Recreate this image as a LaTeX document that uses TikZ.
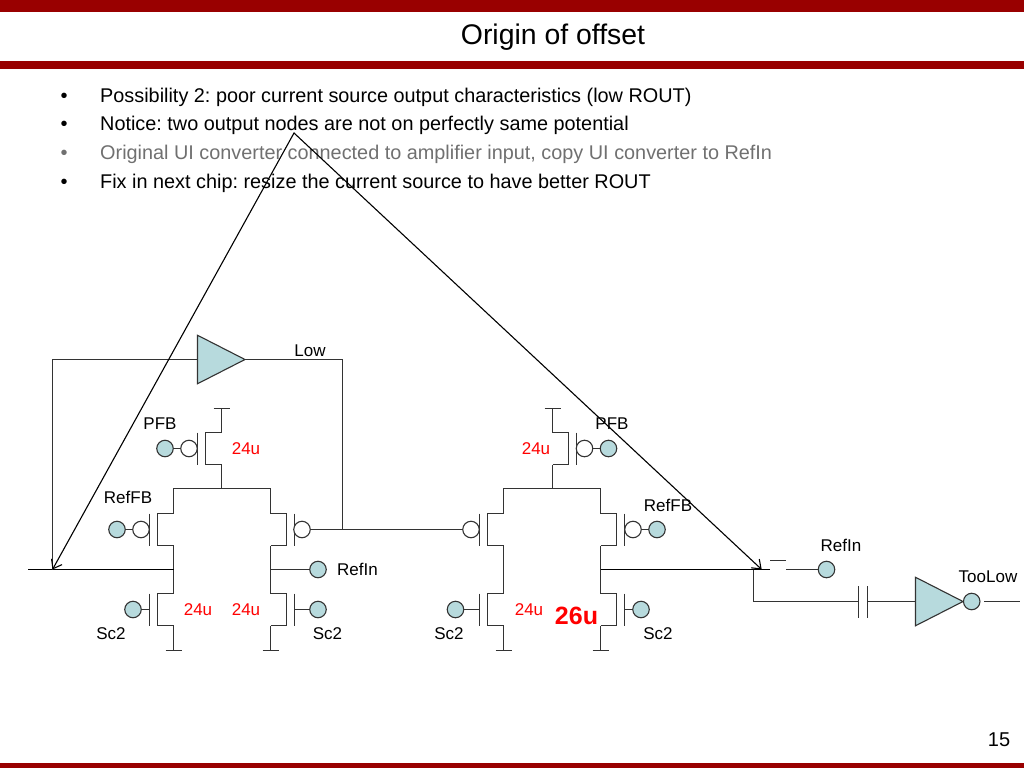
\documentclass[tikz,border=0pt]{standalone}
\usepackage{fontspec}
\setmainfont{Liberation Sans}
\usepackage{tikz}
\usetikzlibrary{arrows.meta}
\usetikzlibrary{shapes.geometric}
\definecolor{bandred}{HTML}{990000}
\definecolor{padteal}{HTML}{B7DADD}
\definecolor{wiregray}{HTML}{333333}
\definecolor{dimgray}{HTML}{707070}
\tikzset{
    wire/.style={draw=wiregray, line width=1.1pt},
    net/.style={draw=black, line width=1.1pt},
    pad/.style={circle, draw=wiregray, line width=1.1pt, fill=padteal, minimum size=16.5pt, inner sep=0pt, outer sep=0pt},
    bubble/.style={circle, draw=wiregray, line width=1.1pt, fill=white, minimum size=16.5pt, inner sep=0pt, outer sep=0pt},
    amp/.style={isosceles triangle, isosceles triangle stretches, shape border rotate=0, draw=wiregray, line width=1.1pt, fill=padteal, minimum height=47.5pt, minimum width=48.5pt, inner sep=0pt, outer sep=0pt, anchor=lower side},
    lab/.style={font=\fontsize{17}{20}\selectfont, inner sep=0pt},
    width/.style={font=\fontsize{17}{20}\selectfont, text=red, inner sep=0pt},
    body/.style={font=\fontsize{19.85}{24}\selectfont, inner sep=0pt, anchor=base west},
    dot/.style={font=\fontsize{20}{24}\selectfont, inner sep=0pt, anchor=base},
    mos/.pic={
        \draw[wire] (0,-16) -- (-16,-16) -- (-16,16) -- (0,16);
        \draw[wire] (-24,-16) -- (-24,16);
        \coordinate (-d) at (0,-16);
        \coordinate (-s) at (0,16);
        \coordinate (-g) at (-24,0);
    }
}
\frenchspacing

\begin{document}
\begin{tikzpicture}[x=1pt, y=-1pt]
\useasboundingbox (0,0) rectangle (1024,768);

% slide frame
\fill[bandred] (0,0)   rectangle (1024,12.5);
\fill[bandred] (0,61)  rectangle (1024,69);
\fill[bandred] (0,763) rectangle (1024,768);
\node[font=\fontsize{28.4}{34}\selectfont, inner sep=0pt, anchor=base] (title) at (553,44.5) {Origin of offset};
\node[font=\fontsize{20}{24}\selectfont, inner sep=0pt] (pageno) at (999,740) {15};

% text
\node[dot]  (dot1)  at (64,102)   {\textbullet};
\node[body] (line1) at (100,102)  {Possibility 2: poor current source output characteristics (low ROUT)};
\node[dot]  (dot2)  at (64,130.5) {\textbullet};
\node[body] (line2) at (100,130.5) {Notice: two output nodes are not on perfectly same potential};
\node[dot, text=dimgray]  (dot3)  at (64,159)  {\textbullet};
\node[body, text=dimgray] (line3) at (100,159) {Original UI converter connected to amplifier input, copy UI converter to RefIn};
\node[dot]  (dot4)  at (64,188)   {\textbullet};
\node[body] (line4) at (100,188)  {Fix in next chip: resize the current source to have better ROUT};

% first stage
\pic               (pa)  at (221.5,448.5) {mos};
\pic               (pb)  at (173.5,529.5) {mos};
\pic[xscale=-1]    (pc)  at (270.5,529.5) {mos};
\pic               (nb)  at (173.5,609.5) {mos};
\pic[xscale=-1]    (nc)  at (270.5,609.5) {mos};
\coordinate (vdda)  at (221.5,408.5);
\coordinate (taila) at (221.5,488.5);
\coordinate (tailb) at (173.5,488.5);
\coordinate (tailc) at (270.5,488.5);
\coordinate (gndb)  at (173.5,650.5);
\coordinate (gndc)  at (270.5,650.5);
\coordinate (outb)  at (173.5,569.5);
\coordinate (outc)  at (270.5,569.5);
\coordinate (fbin)  at (52.5,569.5);
\coordinate (inl)   at (28,569.5);
\coordinate (fbout) at (342.5,529.5);
\draw[wire] (vdda) -- (pa-d);
\draw[wire] (pa-s) -- (taila);
\draw[wire] (pb-d) -- (tailb) -- (tailc) -- (pc-d);
\draw[wire] (pb-s) -- (nb-d);
\draw[wire] (pc-s) -- (nc-d);
\draw[wire] (nb-s) -- (gndb);
\draw[wire] (nc-s) -- (gndc);

\node[bubble] (ba)  at (189,448.5)   {};
\node[pad]    (ta)  at (165,448.5)   {} edge [wire] (ba);
\node[bubble] (bb)  at (141,529.5)   {};
\node[pad]    (tb)  at (117,529.5)   {} edge [wire] (bb);
\node[bubble] (bc)  at (302,529.5)   {};
\node[pad]    (tnb) at (133,609.5)   {} edge [wire] (nb-g);
\node[pad]    (tnc) at (318,609.5)   {} edge [wire] (nc-g);
\node[pad]    (trc) at (318,569.5)   {} edge [wire] (outc);
\draw[net] (inl) -- (outb);

% feedback amplifier
\node[amp] (ampa) at (197.5,359.5) {};
\draw[wire] (ampa.lower side) -| (fbin);
\draw[wire] (ampa.apex) -| (fbout);

% second stage
\pic[xscale=-1]    (pd)  at (552.5,448.5) {mos};
\pic               (pe)  at (503.5,529.5) {mos};
\pic[xscale=-1]    (pf)  at (600.5,529.5) {mos};
\pic               (ne)  at (503.5,609.5) {mos};
\pic[xscale=-1]    (nf)  at (600.5,609.5) {mos};
\coordinate (vddd)  at (552.5,408.5);
\coordinate (taild) at (552.5,488.5);
\coordinate (taile) at (503.5,488.5);
\coordinate (tailf) at (600.5,488.5);
\coordinate (gnde)  at (503.5,650.5);
\coordinate (gndf)  at (600.5,650.5);
\coordinate (outf)  at (600.5,569.5);
\draw[wire] (vddd) -- (pd-d);
\draw[wire] (pd-s) -- (taild);
\draw[wire] (pe-d) -- (taile) -- (tailf) -- (pf-d);
\draw[wire] (pe-s) -- (ne-d);
\draw[wire] (pf-s) -- (nf-d);
\draw[wire] (ne-s) -- (gnde);
\draw[wire] (nf-s) -- (gndf);

\node[bubble] (bd)  at (584.5,448.5) {};
\node[pad]    (td)  at (608.5,448.5) {} edge [wire] (bd);
\node[bubble] (be)  at (471,529.5)   {} edge [wire] (bc);
\node[bubble] (bf)  at (633,529.5)   {};
\node[pad]    (tf)  at (657,529.5)   {} edge [wire] (bf);
\node[pad]    (tne) at (455.5,609.5) {} edge [wire] (ne-g);
\node[pad]    (tnf) at (641,609.5)   {} edge [wire] (nf-g);

% supply and ground bars
\foreach \bar in {vdda,gndb,gndc,vddd,gnde,gndf}
    \draw[wire] ([xshift=-8pt]\bar) -- ([xshift=8pt]\bar);

% switch, capacitor, inverter
\coordinate (swa)   at (769.5,569.5);
\coordinate (swb)   at (786,569.5);
\coordinate (swta)  at (770,560.5);
\coordinate (swtb)  at (786,560.5);
\coordinate (tap)   at (753.5,569.5);
\coordinate (tip)   at (761.7,569.5);
\coordinate (capl)  at (858.5,601.5);
\coordinate (capr)  at (867.5,601.5);
\coordinate (invo)  at (984,601.5);
\coordinate (endo)  at (1020,601.5);
\draw[net] (outf) -- (swa);
\draw[wire] (swta) -- (swtb);
\node[pad] (tsw) at (826.5,569.5) {} edge [wire] (swb);
\draw[wire] (tap) |- (capl);
\draw[wire] ([yshift=-16pt]capl) -- ([yshift=16pt]capl);
\draw[wire] ([yshift=-16pt]capr) -- ([yshift=16pt]capr);
\node[amp] (inv) at (915.5,601.5) {} edge [wire] (capr);
\node[pad] (invb) at (971.7,601.5) {};
\draw[wire] (invo) -- (endo);

% labels
\node[lab] (lowl)  at (310,351)   {Low};
\node[lab] (pfba)  at (160,424)   {PFB};
\node[lab] (rfbb)  at (128,497)   {RefFB};
\node[lab] (sc2b)  at (111,634)   {Sc2};
\node[lab] (sc2c)  at (327.5,634) {Sc2};
\node[lab] (rfin)  at (357.5,569.3) {RefIn};
\node[lab] (pfbd)  at (612,424)   {PFB};
\node[lab] (rfbf)  at (668,505)   {RefFB};
\node[lab] (sc2e)  at (449,634)   {Sc2};
\node[lab] (sc2f)  at (658,634)   {Sc2};
\node[lab] (rfsw)  at (841,545)   {RefIn};
\node[lab] (tool)  at (988,577)   {TooLow};
\node[width] (wa)  at (246,448.5) {24u};
\node[width] (wb)  at (198,610)   {24u};
\node[width] (wc)  at (246,610)   {24u};
\node[width] (wd)  at (536,448.5) {24u};
\node[width] (we)  at (529,610)   {24u};
\node[font=\fontsize{25}{30}\selectfont\bfseries, text=red, inner sep=0pt] (wf) at (576.5,616) {26u};

% arrows over the drawing
\coordinate (apex) at (294,133);
\draw[{Straight Barb[length=8pt,width=12pt]}-{Straight Barb[length=8pt,width=12pt]}, black, line width=1.1pt] (fbin) -- (apex) -- (tip);
\end{tikzpicture}
\end{document}
